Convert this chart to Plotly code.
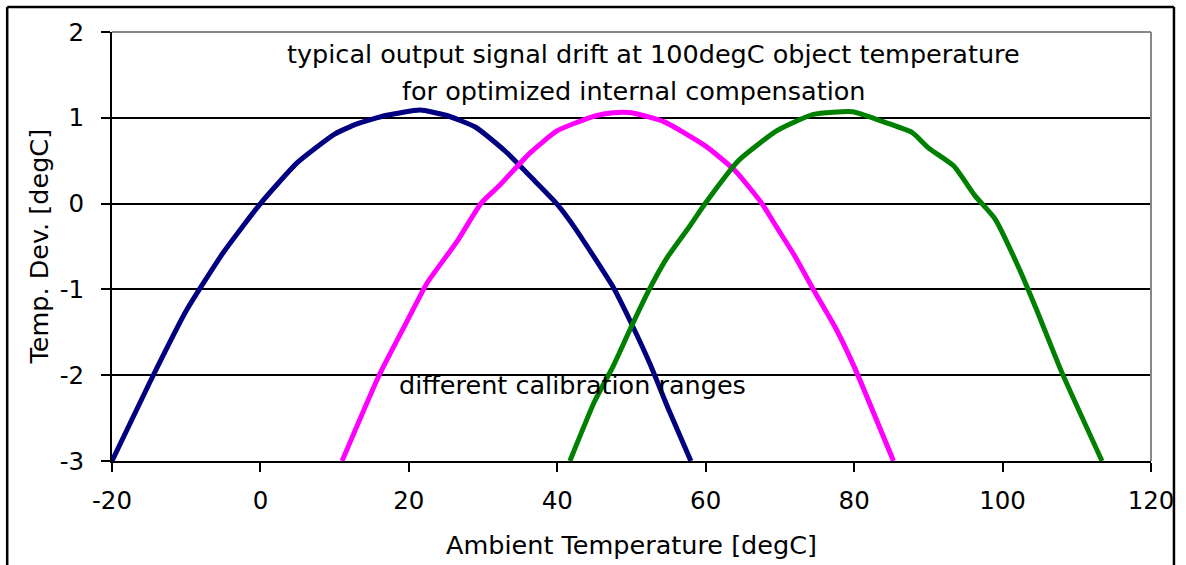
import plotly.graph_objects as go

# ---- data ----
blue_x = [-20, -15, -10, -5, 0, 5, 10, 13, 17, 21.5, 25, 29, 33, 37, 40, 42.5, 47.5, 50, 52.5, 55, 58]
blue_y = [-3, -2.1, -1.25, -0.57, 0, 0.48, 0.81, 0.93, 1.03, 1.09, 1.03, 0.89, 0.61, 0.26, -0.01, -0.30, -0.97, -1.4, -1.87, -2.4, -3.0]

magenta_x = [11, 16, 20, 22.5, 26.5, 29.7, 32.2, 36.2, 40, 45, 47.5, 50, 54.5, 60, 64, 67.5, 69.6, 72, 74.5, 77.5, 80, 85.3]
magenta_y = [-3, -2.0, -1.33, -0.92, -0.44, 0, 0.21, 0.58, 0.85, 1.02, 1.06, 1.06, 0.95, 0.67, 0.38, 0.01, -0.28, -0.61, -1.0, -1.45, -1.9, -3]

green_x = [41.7, 45, 47.5, 50, 52.4, 54.8, 57.7, 60, 64.4, 69.6, 74.5, 79.8, 83.7, 87.8, 90, 93.4, 96.3, 99, 102.3, 104.5, 108, 113.4]
green_y = [-3, -2.31, -1.9, -1.43, -1.0, -0.63, -0.28, 0.01, 0.5, 0.85, 1.04, 1.07, 0.96, 0.83, 0.65, 0.44, 0.09, -0.18, -0.77, -1.22, -1.97, -3]

x_ticks = [-20, 0, 20, 40, 60, 80, 100, 120]
y_ticks = [-3, -2, -1, 0, 1, 2]

x_title = "Ambient Temperature [degC]"
y_title = "Temp. Dev. [degC]"
note_1 = "typical output signal drift at 100degC object temperature"
note_2 = "for optimized internal compensation"
note_3 = "different calibration ranges"

FONT = "DejaVu Sans"
FS = 25.5
FS_TICK = 24.5

W, H = 1186, 565
L, R, T, B = 112, 33, 32, 104
PW, PH = W - L - R, H - T - B

fig = go.Figure()
for xs, ys, col in [(blue_x, blue_y, "#000080"), (magenta_x, magenta_y, "#FF00FF"), (green_x, green_y, "#008000")]:
    fig.add_trace(go.Scatter(x=xs, y=ys, mode="lines",
                             line=dict(color=col, width=5, shape="spline", smoothing=0.5),
                             showlegend=False, hoverinfo="skip"))

fig.update_layout(
    width=W, height=H,
    margin=dict(l=L, r=R, t=T, b=B, pad=0),
    paper_bgcolor="white", plot_bgcolor="white",
    font=dict(family=FONT, size=FS, color="black"),
    showlegend=False,
)
fig.update_xaxes(
    range=[-20, 120], tickvals=x_ticks, ticktext=[str(v) for v in x_ticks],
    showgrid=False, zeroline=False, showline=True, linecolor="black", linewidth=2,
    ticks="outside", ticklen=9, tickwidth=2, tickcolor="black",
    tickfont=dict(family=FONT, size=FS_TICK, color="black"), ticklabelstandoff=8,
)
fig.update_yaxes(
    range=[-3, 2], tickvals=y_ticks, ticktext=[str(v) for v in y_ticks],
    showgrid=True, gridcolor="black", gridwidth=1.5, zeroline=False,
    showline=True, linecolor="black", linewidth=2,
    ticks="outside", ticklen=9, tickwidth=2, tickcolor="black",
    tickfont=dict(family=FONT, size=FS_TICK, color="black"), ticklabelstandoff=12,
)

# gray top and right frame of plot area
fig.add_shape(type="line", xref="paper", yref="paper", x0=0, x1=1, y0=1, y1=1, line=dict(color="#888888", width=2), layer="above")
fig.add_shape(type="line", xref="paper", yref="paper", x0=1, x1=1, y0=0, y1=1, line=dict(color="#888888", width=2), layer="above")

# outer border of the chart
bx0, bx1 = (7 - L) / PW, (1176 - L) / PW
by1, by0 = (H - B - 7) / PH, -0.4
for (a, b, c, d) in [(bx0, by0, bx0, by1), (bx1, by0, bx1, by1), (bx0, by1, bx1, by1)]:
    fig.add_shape(type="line", xref="paper", yref="paper", x0=a, y0=b, x1=c, y1=d,
                  line=dict(color="black", width=2.5), layer="above")

fig.add_annotation(x=52.96, y=1.744, text=note_1, showarrow=False, xanchor="center", yanchor="middle", font=dict(family=FONT, size=FS))
fig.add_annotation(x=50.3, y=1.31, text=note_2, showarrow=False, xanchor="center", yanchor="middle", font=dict(family=FONT, size=FS))
fig.add_annotation(x=42.1, y=-2.11, text=note_3, showarrow=False, xanchor="center", yanchor="middle", font=dict(family=FONT, size=FS))

fig.add_annotation(xref="paper", yref="paper", x=0.5, y=0, yshift=-84, text=x_title, showarrow=False,
                   xanchor="center", yanchor="middle", font=dict(family=FONT, size=FS))
fig.add_annotation(xref="paper", yref="paper", x=0, y=0.5, xshift=-74, text=y_title, showarrow=False, textangle=-90,
                   xanchor="center", yanchor="middle", font=dict(family=FONT, size=FS))

fig.write_html("out.html", config={"displayModeBar": False},
               post_script="document.body.style.margin='0';document.body.style.overflow='hidden';")
